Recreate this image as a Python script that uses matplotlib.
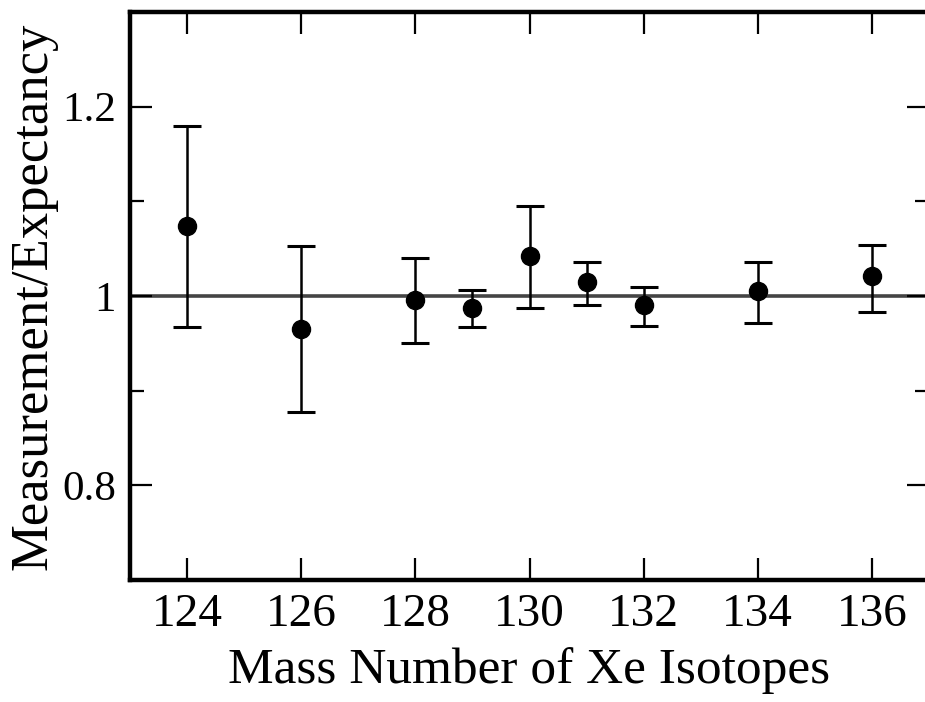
import matplotlib.pyplot as plt
from matplotlib.ticker import MultipleLocator

# Xe isotope ratios
mass = [124, 126, 128, 129, 130, 131, 132, 134, 136]
ratio = [1.074, 0.965, 0.996, 0.987, 1.042, 1.015, 0.990, 1.005, 1.021]
err_hi = [1.180, 1.053, 1.040, 1.006, 1.095, 1.036, 1.010, 1.036, 1.054]
err_lo = [0.967, 0.877, 0.950, 0.967, 0.987, 0.990, 0.968, 0.972, 0.983]

yerr = [[r - lo for r, lo in zip(ratio, err_lo)],
        [hi - r for r, hi in zip(ratio, err_hi)]]

plt.rcParams['font.family'] = ['Liberation Serif', 'DejaVu Serif']

fig = plt.figure(figsize=(9.25, 7.02), dpi=100)
# right edge of the frame runs just past the picture, as in the scan
ax = fig.add_axes([130 / 925, 1 - 580 / 702, 799 / 925, 568 / 702])

ax.axhline(1.0, color='#444444', lw=2.6, zorder=1)
ax.errorbar(mass, ratio, yerr=yerr, fmt='o', color='black', ms=13,
            elinewidth=1.8, capsize=10, capthick=2.2, zorder=3)

ax.set_xlim(123, 137)
ax.set_ylim(0.7, 1.3)
ax.set_xticks(range(124, 137, 2))
ax.set_yticks([0.8, 1.0, 1.2])
ax.set_yticklabels(['0.8', '1', '1.2'])
ax.yaxis.set_minor_locator(MultipleLocator(0.1))

ax.tick_params(which='both', direction='in', top=True, right=True, width=1.6)
ax.tick_params(which='major', length=16, pad=10)
ax.tick_params(which='minor', length=10)
ax.tick_params(axis='x', labelsize=34)
ax.tick_params(axis='y', labelsize=31)
for s in ax.spines.values():
    s.set_linewidth(3.2)

ax.set_xlabel('Mass Number of Xe Isotopes', fontsize=37, labelpad=8)
ax.set_ylabel('Measurement/Expectancy', fontsize=38)
ax.yaxis.set_label_coords((58 - 130) / 799, 0.5)

fig.savefig('out.png', dpi=100)
